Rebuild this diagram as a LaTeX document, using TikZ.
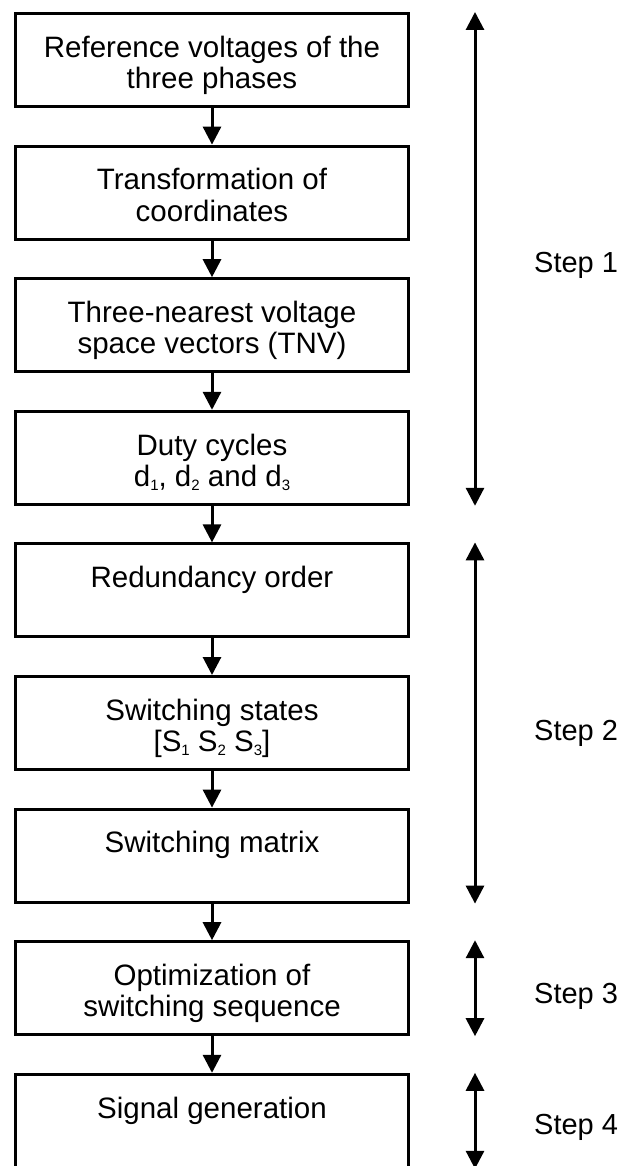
\documentclass[tikz,border=0pt]{standalone}
\usepackage{fontspec}
\setmainfont{Liberation Sans}
\usetikzlibrary{positioning}
\usetikzlibrary{arrows.meta}

% struts that set the first and last line of a block
\newcommand\topline{\rule{0pt}{33pt}}
\newcommand\botline{\rule[-7pt]{0pt}{7pt}}
% small index below the line
\newcommand\idx[1]{\raisebox{-4pt}{\fontsize{15}{15}\selectfont #1}}

\begin{document}
\begin{tikzpicture}[x=1pt,y=-1pt,node distance=36.6pt,
    box/.style={draw, line width=3pt, minimum width=393pt, minimum height=93pt,
        inner sep=0pt, align=center, font=\fontsize{29.5}{31.5}\selectfont},
    flow/.style={line width=3pt, -{Triangle[width=18pt,length=18pt]}},
    span/.style={line width=3pt, {Triangle[width=18pt,length=18pt]}-{Triangle[width=18pt,length=18pt]}},
    steplabel/.style={anchor=west, inner sep=0pt, font=\fontsize{29}{31}\selectfont}]

    % Fix the size of the page
    \useasboundingbox (0,0) rectangle (622,1166);

    % Define the column of the step arrows
    \coordinate (sx) at (475,0);

    % Draw the blocks
    \node[box] (ref) at (212,60) {\topline Reference voltages of the\\three phases\botline};
    \node[box, below=of ref] (trans) {\topline Transformation of\\coordinates\botline};
    \node[box, below=of trans] (tnv) {\topline Three-nearest voltage\\space vectors (TNV)\botline};
    \node[box, below=of tnv] (duty) {\topline Duty cycles\\d\idx{1}, d\idx{2} and d\idx{3}\botline};
    \node[box, below=of duty] (redund) {\topline Redundancy order\\\botline};
    \node[box, below=of redund] (swstates) {\topline Switching states\\{[}S\idx{1} S\idx{2} S\idx{3}{]}\botline};
    \node[box, below=of swstates] (swmatrix) {\topline Switching matrix\\\botline};
    \node[box, below=of swmatrix] (optim) {\topline Optimization of\\switching sequence\botline};
    \node[box, below=of optim] (signal) {\topline Signal generation\\\botline};

    % Draw the flow arrows
    \draw[flow] (ref) -- (trans);
    \draw[flow] (trans) -- (tnv);
    \draw[flow] (tnv) -- (duty);
    \draw[flow] (duty) -- (redund);
    \draw[flow] (redund) -- (swstates);
    \draw[flow] (swstates) -- (swmatrix);
    \draw[flow] (swmatrix) -- (optim);
    \draw[flow] (optim) -- (signal);

    % Draw the step ranges
    \draw[span] (sx |- ref.north) -- (sx |- duty.south);
    \draw[span] (sx |- redund.north) -- (sx |- swmatrix.south);
    \draw[span] (sx |- optim.north) -- (sx |- optim.south);
    \draw[span] (sx |- signal.north) -- (sx |- signal.south);

    % Label the steps
    \node[steplabel] (step1) at (534,265) {Step 1};
    \node[steplabel] (step2) at (534,733) {Step 2};
    \node[steplabel] (step3) at (534,996) {Step 3};
    \node[steplabel] (step4) at (534,1127) {Step 4};
\end{tikzpicture}
\end{document}
